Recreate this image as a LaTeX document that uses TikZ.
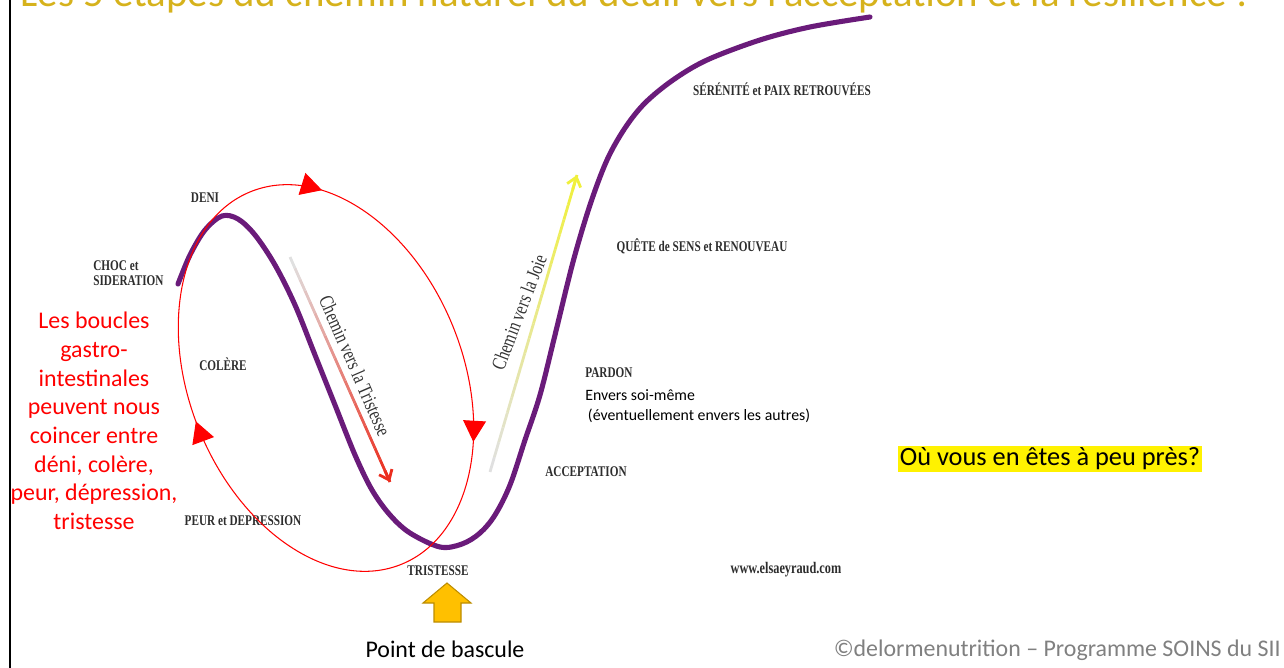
\documentclass[tikz,border=0pt]{standalone}
\usepackage{fontspec}
\setmainfont{Carlito}
\newfontfamily\lblfont[FakeStretch=0.76]{Liberation Serif}
\usetikzlibrary{positioning,calc,arrows.meta,decorations.markings}
\definecolor{gold}{RGB}{214,178,28}
\definecolor{plum}{RGB}{106,27,122}
\definecolor{lbl}{RGB}{45,45,45}
\definecolor{amber}{RGB}{255,192,0}
\definecolor{amberdark}{RGB}{188,140,0}
\definecolor{joie}{RGB}{240,240,60}
\definecolor{triste}{RGB}{235,45,30}
\colorlet{fadegray}{black!12}

\begin{document}
\begin{tikzpicture}[x=0.5692pt, y=-0.5692pt]
\tikzstyle{stage}=[inner sep=0pt, text=lbl, font=\lblfont\bfseries\fontsize{8.4}{8.8}\selectfont]
\tikzstyle{pathtext}=[inner sep=0pt, text=black!80, font=\lblfont\fontsize{11.5}{12}\selectfont]
\tikzstyle{slide}=[inner sep=0pt, font=\fontsize{13.6}{16.3}\selectfont]
\tikzstyle{gutloop}=[red, line width=0.6pt, postaction=decorate,
  decoration={markings,
    mark=at position 0.14 with {\arrowreversed{Triangle[length=12pt,width=13pt]}},
    mark=at position 0.432 with {\arrowreversed{Triangle[length=12pt,width=13pt]}},
    mark=at position 0.742 with {\arrowreversed{Triangle[length=12pt,width=13pt]}}}]
\useasboundingbox (0,0) rectangle (1284,668);

	% titre (coupe en haut)
	\node[anchor=base, text=gold, font=\fontsize{23.3}{27}\selectfont] (title) at (635,6.5) {Les 5 étapes du chemin naturel du deuil vers l'acceptation et la résilience !};
	\draw[line width=1.7pt] (10,0) -- (10,668);

	% la courbe du deuil
	\draw[plum, line width=2.9pt, line cap=round] plot[smooth, tension=0.55] coordinates {
		(178,284) (190,255) (205,230) (222,216) (238,219) (255,235) (275,265)
		(295,305) (315,355) (335,405) (355,455) (372,490) (390,515) (410,533)
		(440,547) (462,544) (480,533) (495,515) (510,485) (525,440) (540,395)
		(555,335) (573,262) (590,205) (607,160) (625,128) (645,103) (673,80)
		(707,60) (760,40) (810,27) (870,17)};

	% chemins
	\coordinate (tristeStart) at (290,257);
	\coordinate (tristeEnd) at (390,482);
	\coordinate (joieStart) at (490,472);
	\coordinate (joieEnd) at (577,175);
	\foreach \i in {0,...,19} {
		\pgfmathsetmacro\ta{\i/20}
		\pgfmathsetmacro\tb{(\i+1)/20}
		\pgfmathsetmacro\pc{100*\i/19}
		\draw[line width=1.6pt, triste!\pc!fadegray] ($(tristeStart)!\ta!(tristeEnd)$) -- ($(tristeStart)!\tb!(tristeEnd)$);
		\draw[line width=1.6pt, joie!\pc!fadegray] ($(joieStart)!\ta!(joieEnd)$) -- ($(joieStart)!\tb!(joieEnd)$);
	}
	\draw[line width=1.6pt, triste, -{Straight Barb[length=5pt,width=8pt]}] ($(tristeStart)!0.95!(tristeEnd)$) -- (tristeEnd);
	\draw[line width=1.6pt, joie, -{Straight Barb[length=5pt,width=8pt]}] ($(joieStart)!0.95!(joieEnd)$) -- (joieEnd);
	\node[pathtext, rotate=-66.5] (toTriste) at (355,366) {Chemin vers la Tristesse};
	\node[pathtext, rotate=69] (toJoie) at (519,312) {Chemin vers la Joie};

	% etapes
	\node[stage, anchor=west, align=left] (choc) at (93,273) {CHOC et\\SIDERATION};
	\node[stage] (deni) at (205,198) {DENI};
	\node[stage] (colere) at (223,364) {COLÈRE};
	\node[stage] (peur) at (243,521) {PEUR et DEPRESSION};
	\node[stage] (tristesse) at (438,571) {TRISTESSE};
	\node[stage] (acceptation) at (586,472) {ACCEPTATION};
	\node[stage, anchor=west] (pardon) at (585,373) {PARDON};
	\node[inner sep=0pt, align=left, font=\fontsize{9}{11.4}\selectfont,
		below=6pt of pardon.south west, anchor=north west] (envers) {Envers soi-même\\\hspace{1.5pt}(éventuellement envers les autres)};
	\node[stage] (quete) at (702,246) {QUÊTE de SENS et RENOUVEAU};
	\node[stage] (serenite) at (782,89) {SÉRÉNITÉ et PAIX RETROUVÉES};
	\node[stage, font=\lblfont\bfseries\fontsize{9.2}{9.6}\selectfont] (site) at (786,570) {www.elsaeyraud.com};

	% boucle
	\draw[gutloop, rotate around={-68:(326,378)}] (326,378) ellipse [x radius=114.4pt, y radius=78pt];
	\node[slide, text=red, align=center] (boucles) at (94,421)
		{Les boucles\\gastro-\\intestinales\\peuvent nous\\coincer entre\\déni, colère,\\peur, dépression,\\tristesse};

	% bascule
	\draw[fill=amber, draw=amberdark, line width=0.6pt] (434,622) -- (461,622) -- (461,603) -- (471,603)
		-- (447,583) -- (423,603) -- (434,603) -- cycle;
	\node[slide, anchor=base] (bascule) at (445,657) {Point de bascule};
	\node[slide, fill=yellow, inner sep=1pt, font=\fontsize{15}{17}\selectfont] (question) at (1050,459) {Où vous en êtes à peu près?};
	\node[slide, anchor=base east, text=black!50] (copy) at (1281,656) {©delormenutrition – Programme SOINS du SII};
\end{tikzpicture}
\end{document}
